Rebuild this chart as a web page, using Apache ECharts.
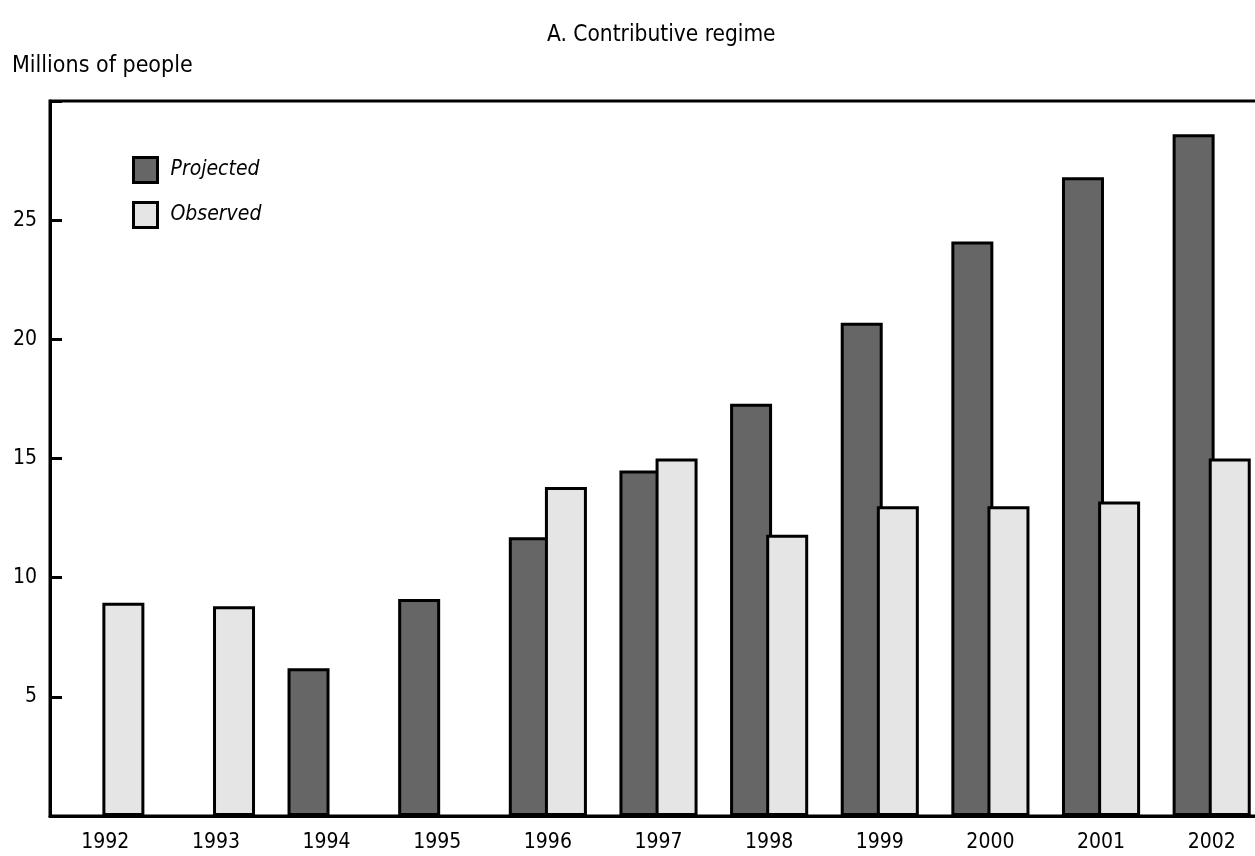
<!DOCTYPE html>
<html>
<head>
<meta charset="utf-8">
<title>A. Contributive regime</title>
<script src="https://cdn.jsdelivr.net/npm/echarts@6/dist/echarts.min.js"></script>
<style>
  html, body { margin: 0; padding: 0; background: #fff; }
  #chart { width: 1255px; height: 856px; }
</style>
</head>
<body>
<div id="chart"></div>
<script>
// data
const years = ['1992', '1993', '1994', '1995', '1996', '1997', '1998', '1999', '2000', '2001', '2002']
const projected = [null, null, 6.2, 9.1, 11.7, 14.5, 17.3, 20.7, 24.1, 26.8, 28.6]
const observed = [8.95, 8.8, null, null, 13.8, 15.0, 11.8, 13.0, 13.0, 13.2, 15.0]
const yTicks = [5, 10, 15, 20, 25]

const font = "'DejaVu Sans Condensed', 'Liberation Sans Narrow', 'Arial Narrow', sans-serif"

const myChart = echarts.init(document.getElementById('chart'))

const option = {
  animation: false,
  backgroundColor: '#fff',
  textStyle: { fontFamily: font, color: '#000' },
  title: [
    {
      text: 'A. Contributive regime',
      left: 542,
      top: 19,
      textStyle: { fontFamily: font, fontSize: 22.5, fontWeight: 'normal', color: '#000' }
    },
    {
      text: 'Millions of people',
      left: 7,
      top: 50,
      textStyle: { fontFamily: font, fontSize: 23, fontWeight: 'normal', color: '#000' }
    }
  ],
  legend: {
    orient: 'vertical',
    left: 127,
    top: 151,
    itemWidth: 24,
    itemHeight: 25,
    itemGap: 17,
    icon: 'rect',
    data: ['Projected', 'Observed'],
    textStyle: { fontFamily: font, fontSize: 21, fontStyle: 'italic', color: '#000', padding: [0, 0, 0, 8] },
    itemStyle: { borderColor: '#000', borderWidth: 3 }
  },
  grid: {
    left: 50,
    width: 1217,
    top: 101,
    bottom: 40,
    outerBoundsMode: 'none',
    show: true,
    borderColor: '#000',
    borderWidth: 3
  },
  xAxis: {
    type: 'category',
    data: years,
    axisLine: { lineStyle: { color: '#000', width: 3 } },
    axisTick: { show: false },
    axisLabel: { margin: 16, fontSize: 21, color: '#000', fontFamily: font }
  },
  yAxis: {
    type: 'value',
    min: 0,
    max: 30,
    interval: 5,
    splitLine: { show: false },
    axisLine: { show: true, lineStyle: { color: '#000', width: 3 } },
    axisTick: { show: true, inside: true, length: 12, lineStyle: { color: '#000', width: 3 } },
    axisLabel: {
      margin: 13,
      fontSize: 21,
      color: '#000',
      fontFamily: font,
      formatter: (v) => (yTicks.includes(v) ? String(v) : '')
    }
  },
  series: [
    {
      name: 'Projected',
      type: 'bar',
      data: projected,
      barWidth: 42,
      barGap: '-14%',
      itemStyle: { color: '#666666', borderColor: '#000', borderWidth: 3 }
    },
    {
      name: 'Observed',
      type: 'bar',
      data: observed,
      barWidth: 42,
      barGap: '-14%',
      itemStyle: { color: '#e5e5e5', borderColor: '#000', borderWidth: 3 }
    }
  ]
}

myChart.setOption(option)
</script>
</body>
</html>
